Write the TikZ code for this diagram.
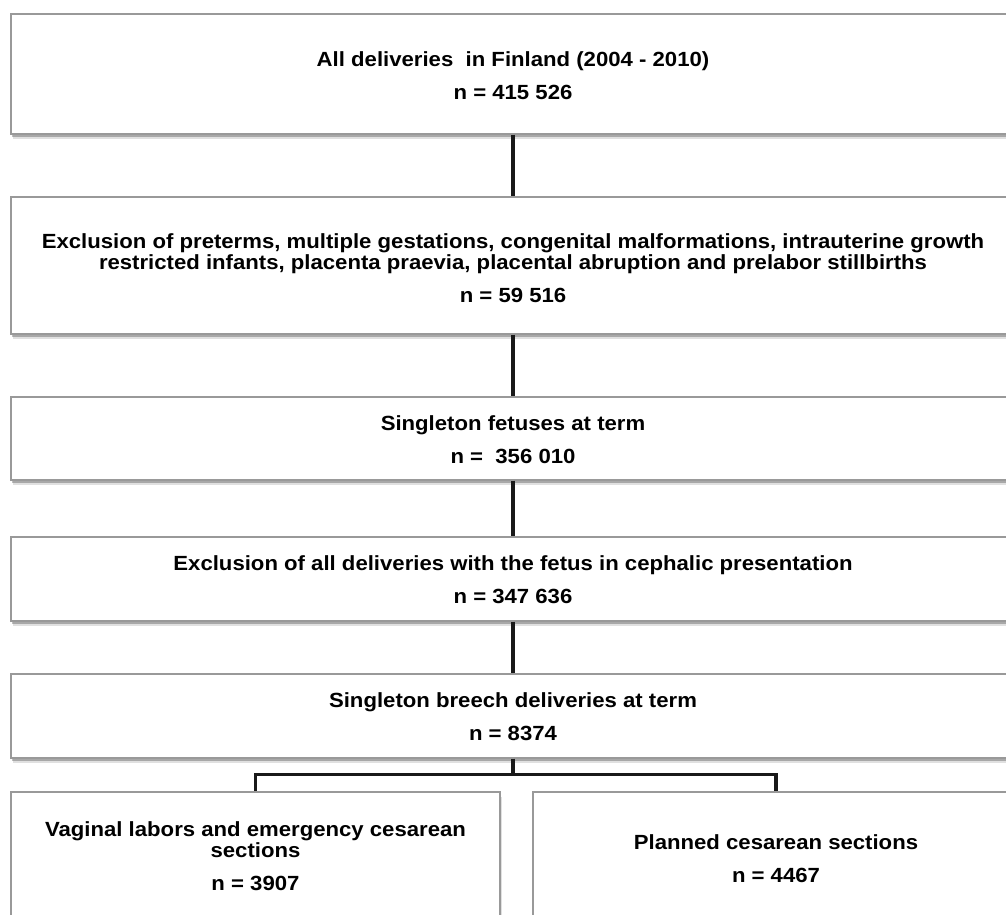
\documentclass[tikz,border=0pt]{standalone}
\usepackage{fontspec}
\setmainfont{Liberation Sans}[FakeStretch=1.08]
\usetikzlibrary{shadows}

\tikzset{
  box/.style={draw=black!40, line width=1.2pt, fill=white, inner sep=0,
    drop shadow={shadow xshift=1.5pt, shadow yshift=-5pt, opacity=0.12, fill=black},
    drop shadow={shadow xshift=1pt, shadow yshift=-3pt, opacity=0.25, fill=black}},
  txt/.style={anchor=base, align=center, inner sep=0, font=\fontsize{20.5}{21}\selectfont\bfseries},
  link/.style={line width=3.5pt, draw=black!90}
}

\begin{document}
\begin{tikzpicture}[x=1pt, y=1pt, yscale=-1, xscale=1]
\useasboundingbox (0,0) rectangle (1006,915);
\node[box, minimum width=1004, minimum height=120] (all) at (513,74) {};
\node[box, minimum width=1004, minimum height=137] (excl1) at (513,265.5) {};
\node[box, minimum width=1004, minimum height=83] (term) at (513,438.5) {};
\node[box, minimum width=1004, minimum height=84] (excl2) at (513,579) {};
\node[box, minimum width=1004, minimum height=84] (breech) at (513,716) {};
\node[box, minimum width=489, minimum height=158] (vag) at (255.5,871) {};
\node[box, minimum width=486, minimum height=158] (cs) at (776,871) {};
\draw (513,100) node[txt] (allt) {All deliveries~ in Finland (2004 - 2010)\\[12pt] n = 415 526};
\draw (513,302) node[txt] (excl1t) {Exclusion of preterms, multiple gestations, congenital malformations, intrauterine growth\\ restricted infants, placenta praevia, placental abruption and prelabor stillbirths\\[12pt] n = 59 516};
\draw (513,463) node[txt] (termt) {Singleton fetuses at term\\[12pt] n = ~356 010};
\draw (513,603) node[txt] (excl2t) {Exclusion of all deliveries with the fetus in cephalic presentation\\[12pt] n = 347 636};
\draw (513,740) node[txt] (breecht) {Singleton breech deliveries at term\\[12pt] n = 8374};
\draw (255.5,890) node[txt] (vagt) {Vaginal labors and emergency cesarean\\ sections\\[12pt] n = 3907};
\draw (776,882) node[txt] (cst) {Planned cesarean sections\\[12pt] n = 4467};
\draw[link] (all.south) -- (excl1.north);
\draw[link] (excl1.south) -- (term.north);
\draw[link] (term.south) -- (excl2.north);
\draw[link] (excl2.south) -- (breech.north);
\draw[link] (breech.south) -- ++(0,16) coordinate (fork) -| (vag.north);
\draw[link] (fork) -| (cs.north);
\end{tikzpicture}
\end{document}
